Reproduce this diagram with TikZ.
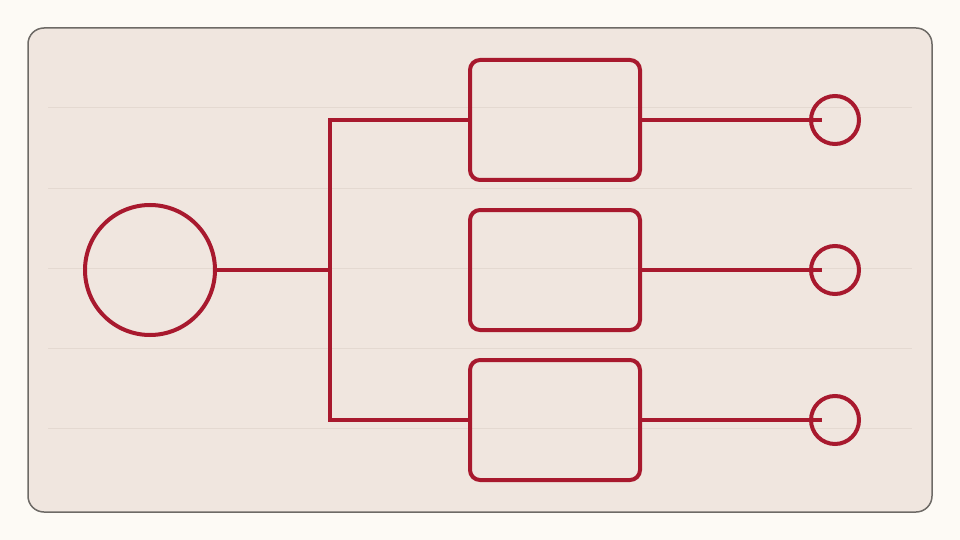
\documentclass[tikz,border=0pt]{standalone}
\usetikzlibrary{calc}
\definecolor{pagebg}{HTML}{FDFAF5}
\definecolor{panelbg}{HTML}{F0E6DF}
\definecolor{panelline}{HTML}{6E6A66}
\definecolor{gridline}{HTML}{E4D9D1}
\definecolor{wire}{HTML}{A8192E}
\begin{document}
\begin{tikzpicture}[x=1pt,y=-1pt,
  wirestyle/.style={draw=wire,line width=4pt},
  bigcirc/.style={circle,wirestyle,minimum size=130pt,inner sep=0pt},
  smallcirc/.style={circle,wirestyle,minimum size=48pt,inner sep=0pt},
  blockbox/.style={rectangle,wirestyle,rounded corners=10pt,minimum width=170pt,minimum height=120pt,inner sep=0pt},
  gridstyle/.style={draw=gridline,line width=1pt}]
\useasboundingbox (0,0) rectangle (960,540);
\fill[pagebg] (0,0) rectangle (960,540);
\draw[fill=panelbg,draw=panelline,line width=1.5pt,rounded corners=16pt] (28,28) rectangle (932,512);
\foreach \yy in {108,188,268,348,428}{\draw[gridstyle] (48,\yy) -- (912,\yy);}
\node[bigcirc] (big) at (150,270) {};
\node[blockbox] (b1) at (555,120) {};
\node[blockbox] (b2) at (555,270) {};
\node[blockbox] (b3) at (555,420) {};
\node[smallcirc] (s1) at (835,120) {};
\node[smallcirc] (s2) at (835,270) {};
\node[smallcirc] (s3) at (835,420) {};
\coordinate (jm) at (330,270);
\coordinate (jt) at (330,120);
\coordinate (jb) at (330,420);
\coordinate (e1) at (822,120);
\coordinate (e2) at (822,270);
\coordinate (e3) at (822,420);
\draw[wirestyle] (big.east) -- (jm);
\draw[wirestyle,line join=miter] (b1.west) -- (jt) -- (jb) -- (b3.west);
\draw[wirestyle] (b1.east) -- (e1);
\draw[wirestyle] (b2.east) -- (e2);
\draw[wirestyle] (b3.east) -- (e3);
\end{tikzpicture}
\end{document}
